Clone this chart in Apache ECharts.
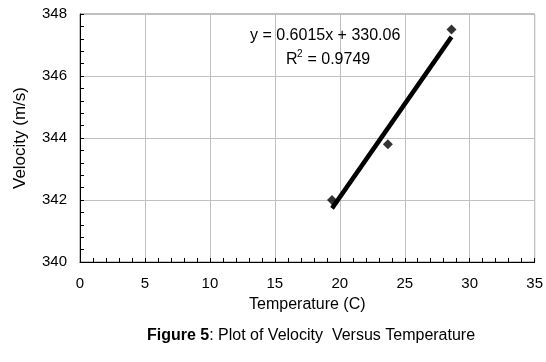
<!DOCTYPE html>
<html><head><meta charset="utf-8">
<script src="https://cdn.jsdelivr.net/npm/echarts@6/dist/echarts.min.js"></script>
<style>html,body{margin:0;padding:0;background:#fff}#c{width:546px;height:362px}</style>
</head><body><div id="c"></div>
<script>
var temperatures = [19.4, 23.7, 28.6];
var velocities = [342.0, 343.8, 347.5];
var trendSlope = 0.6015;
var trendIntercept = 330.06;
var trendLabel = 'y = 0.6015x + 330.06';
var r2Value = '0.9749';
var xTicks = [0, 5, 10, 15, 20, 25, 30, 35];
var yTicks = [340, 342, 344, 346, 348];

var points = temperatures.map(function (t, i) { return [t, velocities[i]]; });
var tMin = Math.min.apply(null, temperatures), tMax = Math.max.apply(null, temperatures);
var trend = [[tMin, trendSlope * tMin + trendIntercept], [tMax, trendSlope * tMax + trendIntercept]];
var F = '"Liberation Sans", Arial, sans-serif';

var chart = echarts.init(document.getElementById('c'), null, {renderer: 'canvas'});
chart.setOption({
  animation: false,
  backgroundColor: '#fff',
  textStyle: {fontFamily: F},
  grid: {left: 80, right: 7, top: 14, bottom: 100, show: true, borderColor: '#808080', borderWidth: 1, containLabel: false},
  xAxis: {
    type: 'value', min: xTicks[0], max: xTicks[xTicks.length - 1], interval: 5,
    name: 'Temperature (C)', nameLocation: 'middle', nameGap: 35,
    nameTextStyle: {fontFamily: F, fontSize: 16, color: '#000'},
    axisLine: {show: true, onZero: false, lineStyle: {color: '#000', width: 1}},
    axisTick: {show: true, inside: true, length: 4, lineStyle: {color: '#000'}},
    minorTick: {show: true, splitNumber: 5, length: 4, lineStyle: {color: '#000'}},
    axisLabel: {fontFamily: F, fontSize: 15, color: '#000', margin: 14},
    splitLine: {show: true, lineStyle: {color: '#c0c0c0', width: 1}}
  },
  yAxis: {
    type: 'value', min: yTicks[0], max: yTicks[yTicks.length - 1], interval: 2,
    name: 'Velocity (m/s)', nameLocation: 'middle', nameGap: 51,
    nameTextStyle: {fontFamily: F, fontSize: 17, color: '#000'},
    axisLine: {show: true, onZero: false, lineStyle: {color: '#000', width: 1}},
    axisTick: {show: true, inside: true, length: 4, lineStyle: {color: '#000'}},
    minorTick: {show: true, splitNumber: 5, length: 4, lineStyle: {color: '#000'}},
    axisLabel: {fontFamily: F, fontSize: 15, color: '#000', margin: 13},
    splitLine: {show: true, lineStyle: {color: '#c0c0c0', width: 1}}
  },
  title: {
    text: '{a|Figure 5}{b|: Plot of Velocity  Versus Temperature}',
    left: 306, top: 323, textAlign: 'center',
    textStyle: {fontWeight: 'normal', rich: {
      a: {fontFamily: F, fontSize: 16, fontWeight: 'bold', color: '#000'},
      b: {fontFamily: F, fontSize: 16, fontWeight: 'normal', color: '#000'}
    }}
  },
  graphic: [
    {type: 'text', left: 250, top: 28, z: 10,
     style: {text: trendLabel, font: '16px ' + F, fill: '#000'}},
    {type: 'text', left: 286, top: 52, z: 10,
     style: {text: 'R', font: '16px ' + F, fill: '#000'}},
    {type: 'text', left: 297, top: 49, z: 10,
     style: {text: '2', font: '10px ' + F, fill: '#000'}},
    {type: 'text', left: 303, top: 52, z: 10,
     style: {text: ' = ' + r2Value, font: '16px ' + F, fill: '#000'}}
  ],
  series: [
    {type: 'line', data: trend, symbol: 'none', lineStyle: {color: '#000', width: 4.5}, z: 3},
    {type: 'scatter', data: points, symbol: 'diamond', symbolSize: 10, itemStyle: {color: '#000'}, z: 4}
  ]
});
</script></body></html>
